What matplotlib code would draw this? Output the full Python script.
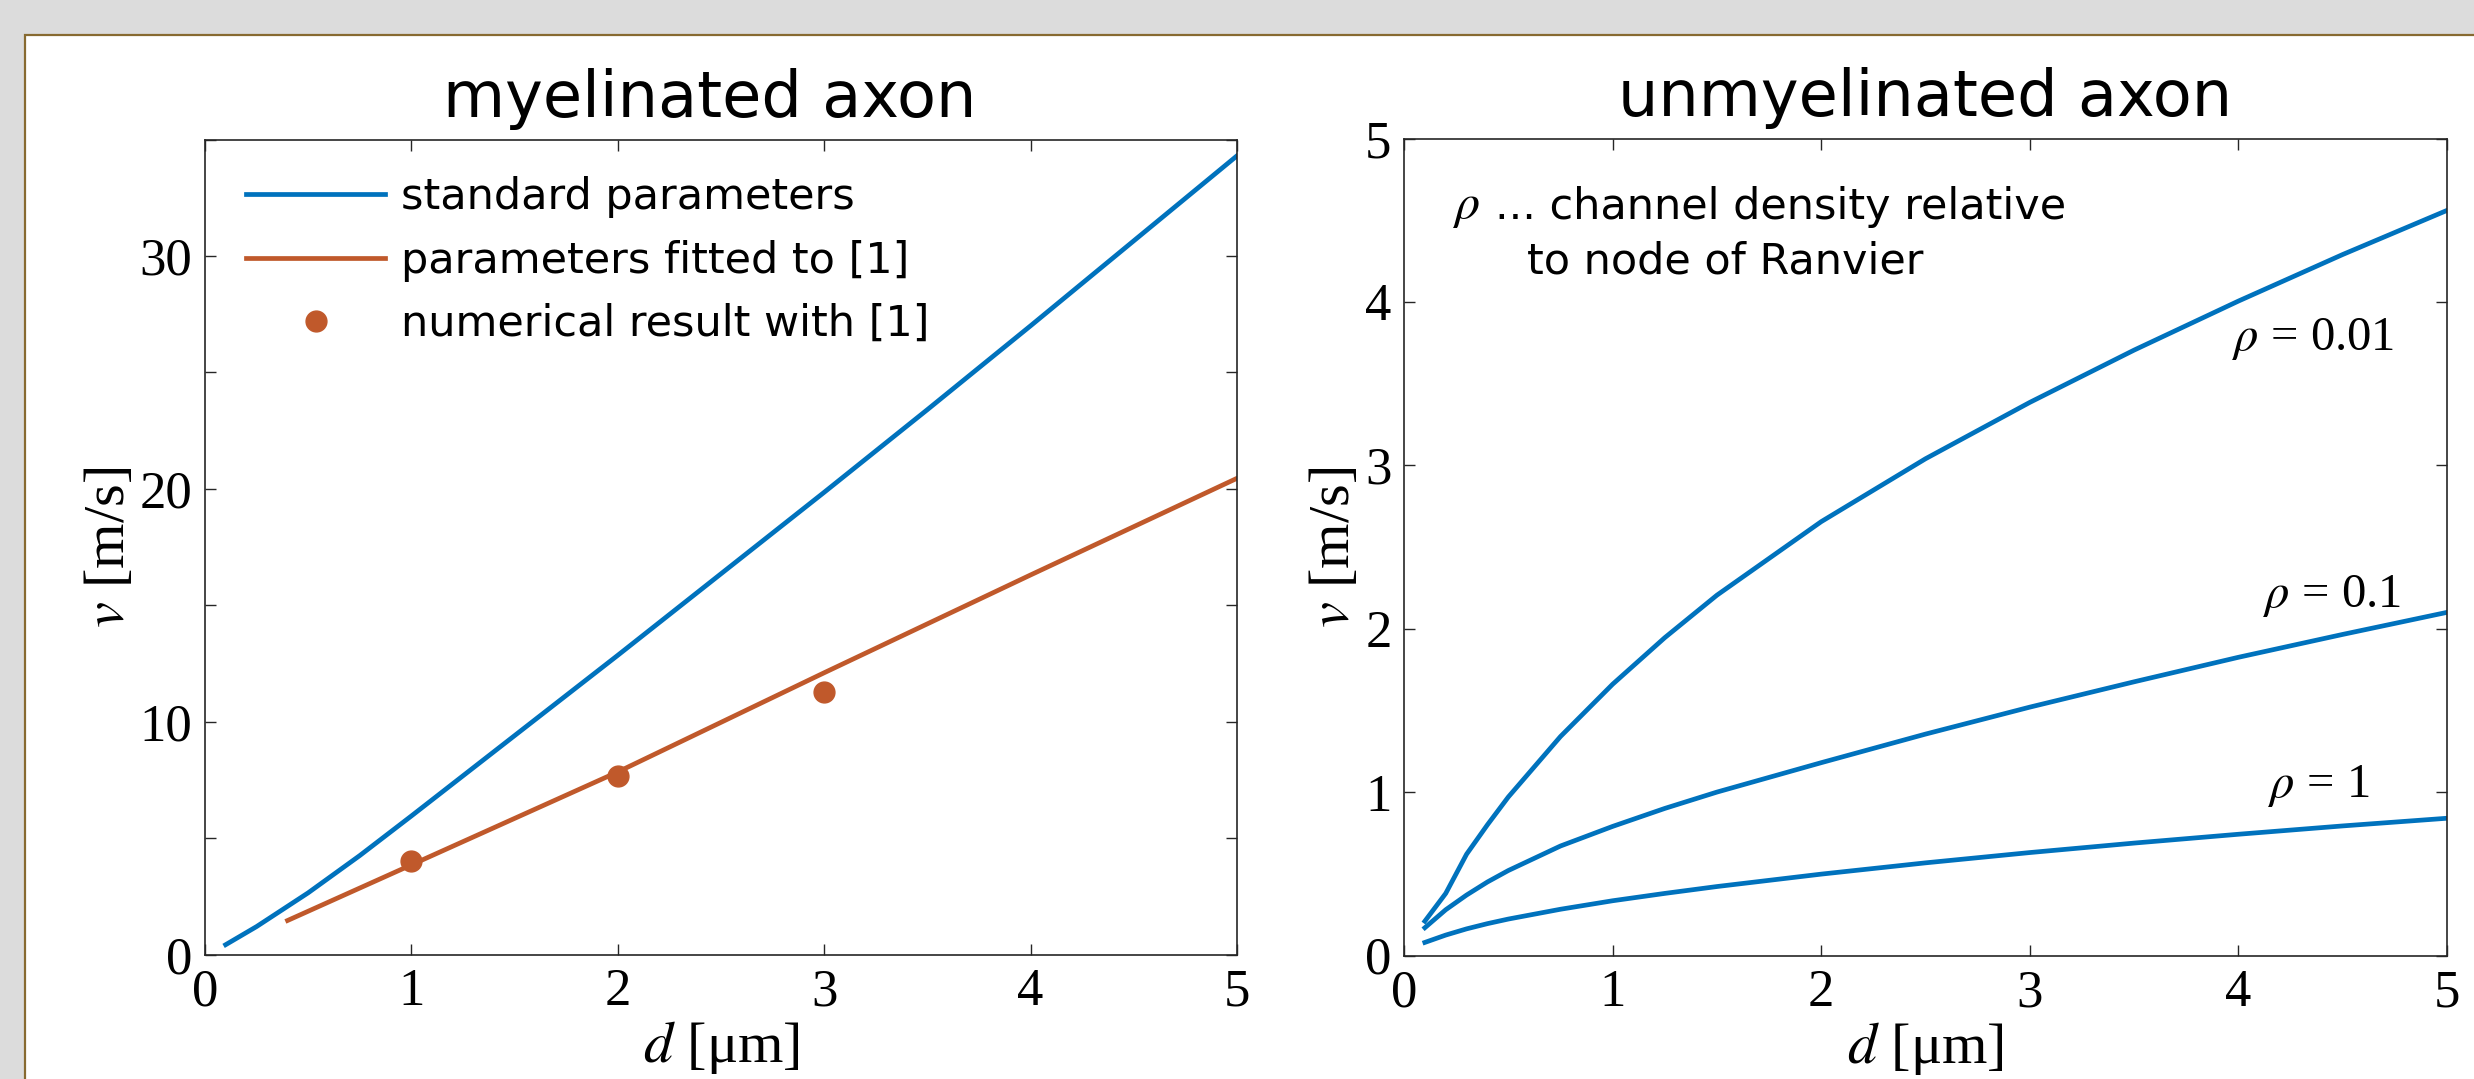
import matplotlib
matplotlib.use("Agg")
import matplotlib.pyplot as plt
from matplotlib.patches import Rectangle

# ---------------- data ----------------
# myelinated axon
d_std = [0.1, 0.25, 0.5, 0.75, 1, 1.5, 2, 2.5, 3, 3.5, 4, 4.5, 5]
v_std = [0.42, 1.2, 2.65, 4.25, 5.95, 9.4, 12.85, 16.35, 19.85, 23.4, 27.0, 30.65, 34.3]
d_fit = [0.4, 1, 2, 3, 4, 5]
v_fit = [1.46, 3.85, 7.84, 12.1, 16.3, 20.45]
d_num = [1, 2, 3]
v_num = [4.0, 7.65, 11.27]
legend_labels = ["standard parameters", "parameters fitted to [1]", "numerical result with [1]"]

# unmyelinated axon
d_unm = [0.1, 0.2, 0.3, 0.4, 0.5, 0.75, 1, 1.25, 1.5, 2, 2.5, 3, 3.5, 4, 4.5, 5]
v_rho001 = [0.21, 0.38, 0.62, 0.80, 0.97, 1.34, 1.66, 1.945, 2.205, 2.655, 3.04, 3.385,
            3.705, 4.005, 4.29, 4.56]
v_rho01 = [0.17, 0.28, 0.37, 0.45, 0.52, 0.67, 0.79, 0.90, 1.00, 1.18, 1.355, 1.52,
           1.675, 1.825, 1.965, 2.10]
v_rho1 = [0.08, 0.125, 0.163, 0.195, 0.223, 0.283, 0.335, 0.38, 0.422, 0.498, 0.567,
          0.63, 0.688, 0.742, 0.793, 0.84]
rho_values = ["0.01", "0.1", "1"]
rho_label_pos = [(4.75, 3.77), (4.78, 2.20), (4.63, 1.035)]

left_yticks = [0, 5, 10, 15, 20, 25, 30, 35]
left_yticklabels = ["0", "", "10", "", "20", "", "30", ""]
xticks = [0, 1, 2, 3, 4, 5]
right_yticks = [0, 1, 2, 3, 4, 5]

BLUE = "#0072BD"
ORANGE = "#C0592B"
SPINE = "#262626"

plt.rcParams["font.family"] = ["Liberation Serif", "DejaVu Serif"]
plt.rcParams["mathtext.fontset"] = "stix"

W, H = 2474, 1079
fig = plt.figure(figsize=(W / 100, H / 100), dpi=100)
fig.patch.set_facecolor("#dcdcdc")

# white panel with brown border
panel = Rectangle((25 / W, -0.05), 1.2, 1 - 35 / H + 0.05, transform=fig.transFigure,
                  facecolor="white", edgecolor="#876a30", linewidth=1.6, zorder=-5)
fig.patches.append(panel)

ax1 = fig.add_axes([205 / W, 1 - 954.5 / H, (1237 - 205) / W, (954.5 - 139.5) / H])
ax2 = fig.add_axes([1404 / W, 1 - 955.5 / H, (2447 - 1404) / W, (955.5 - 138.5) / H])

TICK_FS = 38
LABEL_FS = 42
SANS = "DejaVu Sans"
LW = 3.4

for ax in (ax1, ax2):
    ax.set_facecolor("white")
    for s in ax.spines.values():
        s.set_color(SPINE)
        s.set_linewidth(1.2)
    ax.tick_params(direction="in", top=True, right=True, length=7.7, width=1.0,
                   color=SPINE, labelsize=TICK_FS, labelcolor="black")
    ax.tick_params(axis="y", pad=9)
    ax.tick_params(axis="x", pad=10)
    ax.set_xlim(0, 5)
    ax.set_xticks(xticks)
    ax.set_xlabel(r"$d$ [μm]", fontsize=LABEL_FS, labelpad=2)
    ax.set_ylabel(r"$v$ [m/s]", fontsize=LABEL_FS, labelpad=3)

# ---- left panel ----
ax1.plot(d_std, v_std, color=BLUE, lw=LW, label=legend_labels[0])
ax1.plot(d_fit, v_fit, color=ORANGE, lw=LW, label=legend_labels[1])
ax1.plot(d_num, v_num, linestyle="none", marker="o", markersize=15, color=ORANGE,
         label=legend_labels[2])
ax1.set_ylim(0, 35)
ax1.set_yticks(left_yticks)
ax1.set_yticklabels(left_yticklabels)
ax1.set_title("myelinated axon", fontsize=46, family=SANS, pad=16, x=0.489)
leg = ax1.legend(loc="upper left", bbox_to_anchor=(0.040, 0.955), frameon=False,
                 prop={"family": SANS, "size": 31}, handlelength=3.23,
                 handletextpad=0.37, labelspacing=0.50, borderpad=0, borderaxespad=0,
                 numpoints=1)

# ---- right panel ----
for v in (v_rho001, v_rho01, v_rho1):
    ax2.plot(d_unm, v, color=BLUE, lw=LW)
ax2.set_ylim(0, 5)
ax2.set_yticks(right_yticks)
ax2.set_title("unmyelinated axon", fontsize=46, family=SANS, pad=16)
for val, (x, y) in zip(rho_values, rho_label_pos):
    ax2.text(x, y, r"$\rho$ = " + val, fontsize=35, ha="right", va="center")
ax2.text(0.046, 0.916, r"$\rho$", transform=ax2.transAxes,
         fontsize=36, ha="left", va="center")
ax2.text(0.087, 0.916, "... channel density relative", transform=ax2.transAxes,
         fontsize=31, family=SANS, ha="left", va="center")
ax2.text(0.118, 0.849, "to node of Ranvier", transform=ax2.transAxes,
         fontsize=31, family=SANS, ha="left", va="center")

fig.savefig("out.png", dpi=100, facecolor=fig.get_facecolor())
